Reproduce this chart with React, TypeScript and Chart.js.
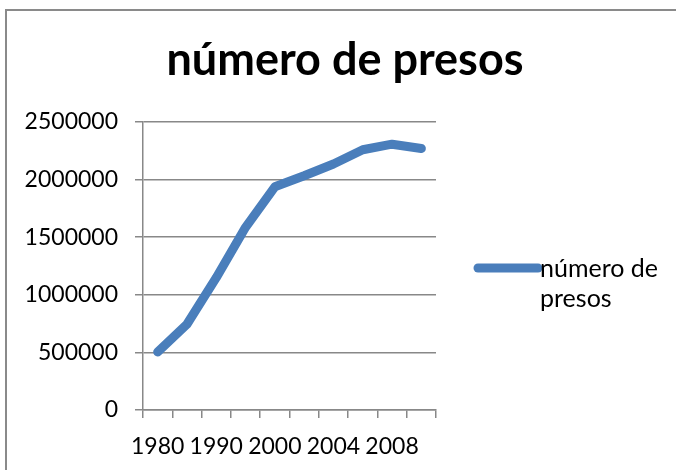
import React, { useEffect, useRef } from 'react';
import { Chart, registerables } from 'chart.js';

Chart.register(...registerables);

const years = ['1980', '1985', '1990', '1995', '2000', '2002', '2004', '2006', '2008', '2010'];
const shownYearLabels = ['1980', '', '1990', '', '2000', '', '2004', '', '2008', ''];
const prisoners = [503586, 744208, 1148702, 1585586, 1937482, 2033022, 2135335, 2258792, 2307504, 2270142];
const yMin = 0;
const yMax = 2500000;
const yStep = 500000;
const seriesName = 'número de presos';
const legendLines = ['número de', 'presos'];
const titleText = 'número de presos';

const FONT = 'Lato';
const LINE_COLOR = '#4a7ebb';
const GRID_COLOR = '#888888';

const decorPlugin = {
  id: 'decor',
  beforeDraw(chart: any) {
    const ctx = chart.ctx;
    ctx.save();
    ctx.fillStyle = '#ffffff';
    ctx.fillRect(0, 0, chart.width, chart.height);
    ctx.strokeStyle = '#8a8a8a';
    ctx.lineWidth = 2;
    ctx.strokeRect(6, 10, chart.width + 20, chart.height + 20);
    ctx.restore();
  },
  afterDraw(chart: any) {
    const ctx = chart.ctx;
    ctx.save();
    // title
    ctx.fillStyle = '#000';
    ctx.font = `bold 45px ${FONT}`;
    ctx.textAlign = 'center';
    ctx.textBaseline = 'alphabetic';
    ctx.fillText(titleText, 345, 75);
    // legend
    const ds = chart.data.datasets[0];
    ctx.strokeStyle = ds.borderColor;
    ctx.lineWidth = ds.borderWidth;
    ctx.lineCap = 'round';
    ctx.beginPath();
    ctx.moveTo(478, 268);
    ctx.lineTo(538, 268);
    ctx.stroke();
    ctx.font = `25px ${FONT}`;
    ctx.textAlign = 'left';
    ctx.fillStyle = '#000';
    ctx.fillText(legendLines[0], 540, 277);
    ctx.fillText(legendLines[1], 540, 307);
    ctx.restore();
  },
};

export default function App() {
  const ref = useRef<HTMLCanvasElement | null>(null);
  useEffect(() => {
    let chart: Chart | null = null;
    let cancelled = false;
    const make = () => {
      if (cancelled || !ref.current) return;
      Chart.defaults.font.family = FONT;
      Chart.defaults.font.size = 23;
      Chart.defaults.color = '#000';
      chart = new Chart(ref.current, {
        type: 'line',
        data: {
          labels: years,
          datasets: [
            {
              label: seriesName,
              data: prisoners,
              borderColor: LINE_COLOR,
              backgroundColor: LINE_COLOR,
              borderWidth: 9,
              borderCapStyle: 'round',
              borderJoinStyle: 'round',
              pointRadius: 0,
              tension: 0,
              fill: false,
            },
          ],
        },
        options: {
          responsive: false,
          animation: false,
          layout: { padding: { top: 122, right: 240, bottom: 0, left: 0 } },
          plugins: {
            legend: { display: false },
            title: { display: false },
            tooltip: { enabled: false },
          },
          scales: {
            x: {
              type: 'category',
              offset: true,
              grid: {
                display: true,
                offset: true,
                drawOnChartArea: false,
                drawTicks: true,
                tickLength: 8,
                color: GRID_COLOR,
                lineWidth: 1.5,
              },
              border: { display: true, color: GRID_COLOR, width: 1.5 },
              ticks: {
                autoSkip: false,
                maxRotation: 0,
                minRotation: 0,
                padding: 15,
                color: '#000',
                font: { family: FONT, size: 23 },
                callback: (_v: any, i: number) => shownYearLabels[i],
              },
              afterFit: (s: any) => {
                s.height = 60;
              },
            },
            y: {
              min: yMin,
              max: yMax,
              grid: {
                color: GRID_COLOR,
                lineWidth: 1.5,
                drawTicks: true,
                tickLength: 8,
              },
              border: { display: true, color: GRID_COLOR, width: 1.5 },
              ticks: {
                stepSize: yStep,
                padding: 17,
                color: '#000',
                font: { family: FONT, size: 23 },
                callback: (v: any) => String(v),
              },
              afterFit: (s: any) => {
                s.width = 143;
              },
            },
          },
        },
        plugins: [decorPlugin],
      } as any);
    };
    const fontsAny: any = (document as any).fonts;
    if (fontsAny && fontsAny.load) {
      Promise.all([fontsAny.load(`23px ${FONT}`), fontsAny.load(`bold 45px ${FONT}`)])
        .catch(() => null)
        .then(make);
    } else {
      make();
    }
    return () => {
      cancelled = true;
      if (chart) chart.destroy();
    };
  }, []);
  return (
    <div style={{ position: 'fixed', left: 0, top: 0, width: 676, height: 470 }}>
      <canvas ref={ref} width={676} height={470} />
    </div>
  );
}
